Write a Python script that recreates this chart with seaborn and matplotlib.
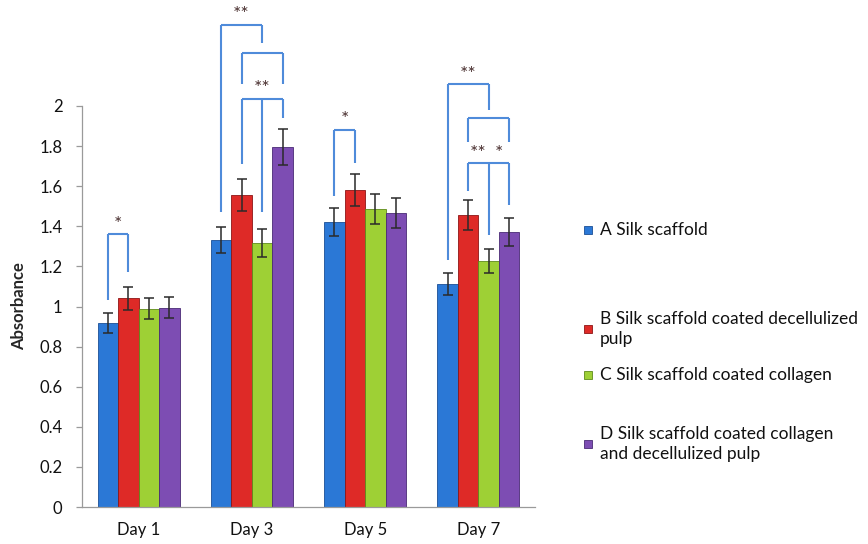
import numpy as np
import pandas as pd
import matplotlib
matplotlib.use("Agg")
import matplotlib.pyplot as plt
from matplotlib.patches import Rectangle
import seaborn as sns

# ---------------- data ----------------
days = ["Day 1", "Day 3", "Day 5", "Day 7"]
groups = ["A Silk scaffold",
          "B Silk scaffold coated decellulized\npulp",
          "C Silk scaffold coated collagen",
          "D Silk scaffold coated collagen\nand decellulized pulp"]
vals_A = [0.92, 1.33, 1.42, 1.11]
vals_B = [1.04, 1.555, 1.58, 1.455]
vals_C = [0.99, 1.315, 1.485, 1.225]
vals_D = [0.995, 1.795, 1.465, 1.37]
err_A = [0.05, 0.065, 0.07, 0.055]
err_B = [0.055, 0.08, 0.08, 0.075]
err_C = [0.05, 0.07, 0.075, 0.06]
err_D = [0.05, 0.09, 0.075, 0.07]
y_ticks = [0, 0.2, 0.4, 0.6, 0.8, 1, 1.2, 1.4, 1.6, 1.8, 2]
y_tick_labels = ["0", "0.2", "0.4", "0.6", "0.8", "1", "1.2", "1.4", "1.6", "1.8", "2"]

# significance brackets: (day index, series indices, leg bottoms, top, labels[(between, text)])
brackets = [
    (0, [0, 1], [1.032, 1.17], 1.36, [((0, 1), "*")]),
    (1, [0, 2], [1.473, 2.316], 2.405, [((1, 1), "**")]),
    (1, [1, 3], [2.108, 2.108], 2.262, []),
    (1, [1, 2, 3], [1.711, 1.471, 1.94], 2.035, [((2, 2), "**")]),
    (2, [0, 1], [1.551, 1.716], 1.88, [((0, 1), "*")]),
    (3, [0, 2], [1.232, 1.98], 2.108, [((1, 1), "**")]),
    (3, [1, 3], [1.822, 1.822], 1.939, []),
    (3, [1, 2, 3], [1.578, 1.357, 1.506], 1.714, [((1, 2), "**"), ((2, 3), "*")]),
]

colors = ["#2B78D6", "#DE2A27", "#9ED035", "#7D4DB3"]
edge_colors = ["#1B4F96", "#8E1515", "#5E8A1A", "#4A2A75"]

values = [vals_A, vals_B, vals_C, vals_D]
errors = [err_A, err_B, err_C, err_D]

rows = []
for g, v in zip(groups, values):
    for d, val in zip(days, v):
        rows.append({"day": d, "group": g, "value": val})
df = pd.DataFrame(rows)

# ---------------- figure ----------------
sns.set_style("white")
plt.rcParams["font.family"] = ["Lato", "DejaVu Sans"]

W, H = 868, 544
fig = plt.figure(figsize=(W / 100, H / 100), dpi=100)
ax = fig.add_axes([82 / W, 1 - 507 / H, (535 - 82) / W, (507 - 106) / H])

sns.barplot(data=df, x="day", y="value", hue="group", hue_order=groups,
            order=days, palette=colors, width=0.725, errorbar=None,
            saturation=1, legend=False, ax=ax, linewidth=0.6)

for k, cont in enumerate(ax.containers):
    for p in cont.patches:
        p.set_edgecolor(edge_colors[k])

# bar centres from library
centers = np.zeros((4, 4))
tops = np.zeros((4, 4))
for k, cont in enumerate(ax.containers):
    for i, p in enumerate(cont.patches):
        centers[k, i] = p.get_x() + p.get_width() / 2
        tops[k, i] = p.get_height()

for k in range(4):
    ax.errorbar(centers[k], tops[k], yerr=errors[k], fmt="none",
                ecolor="#2a2a2a", elinewidth=1.1, capsize=3.5, capthick=1.1,
                zorder=5)

bracket_color = "#4F8BDA"
for day_i, ser, bottoms, top, labels in brackets:
    xs = [centers[s, day_i] for s in ser]
    ax.plot([xs[0], xs[-1]], [top, top], color=bracket_color, lw=1.5,
            clip_on=False, zorder=6, solid_capstyle="butt")
    for x, b in zip(xs, bottoms):
        ax.plot([x, x], [b, top], color=bracket_color, lw=1.5,
                clip_on=False, zorder=6, solid_capstyle="butt")
    for (s1, s2), txt in labels:
        xm = (centers[s1, day_i] + centers[s2, day_i]) / 2
        ax.text(xm, top + 0.008, txt, ha="center", va="bottom",
                fontsize=14, color="#4a3030", clip_on=False, zorder=7)

ax.set_ylim(0, 2)
ax.set_xlim(-0.5, 3.5)
ax.set_yticks(y_ticks)
ax.set_yticklabels(y_tick_labels)
ax.set_xlabel("")
ax.set_ylabel("Absorbance", fontsize=12, fontweight="bold", labelpad=9)

for side in ["top", "right"]:
    ax.spines[side].set_visible(False)
for side in ["left", "bottom"]:
    ax.spines[side].set_color("#9a9a9a")
    ax.spines[side].set_linewidth(0.9)

ax.tick_params(axis="y", length=4, width=0.9, color="#9a9a9a", pad=10,
               labelsize=12, labelcolor="#111111", left=True)
ax.tick_params(axis="x", length=0, pad=11, labelsize=12, labelcolor="#111111")

# legend (manual placement as in reference)
legend_rows = [(230, groups[0]), (329, groups[1]), (375, groups[2]), (444, groups[3])]
for k, (yc, label) in enumerate(legend_rows):
    sq = 8
    fig.patches.append(Rectangle(((588 - sq / 2) / W, 1 - (yc + sq / 2) / H),
                                 sq / W, sq / H, transform=fig.transFigure,
                                 facecolor=colors[k], edgecolor=edge_colors[k],
                                 linewidth=0.6))
    fig.text(600 / W, 1 - yc / H, label, ha="left", va="center",
             fontsize=12.5, color="#111111", linespacing=1.3)

fig.savefig("out.png", dpi=100)
